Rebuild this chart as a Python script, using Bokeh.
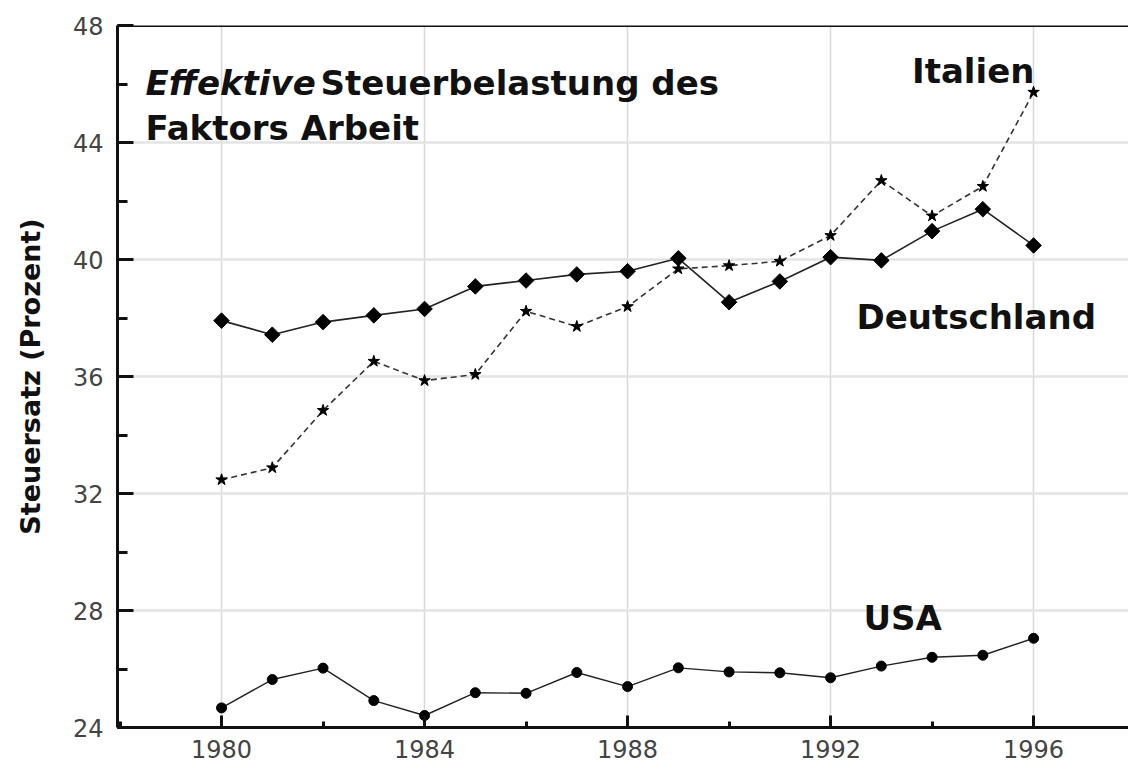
import math
from bokeh.plotting import figure
from bokeh.models import Label, Span, SingleIntervalTicker, Range1d, ColumnDataSource
from bokeh.embed import file_html
from bokeh.resources import INLINE

# ---- data ----
years = list(range(1980, 1997))
deutschland = [37.91, 37.43, 37.86, 38.09, 38.31, 39.08, 39.28, 39.49, 39.60,
               40.04, 38.54, 39.25, 40.08, 39.97, 40.97, 41.72, 40.48]
italien = [32.47, 32.88, 34.84, 36.52, 35.86, 36.07, 38.23, 37.71, 38.39,
           39.68, 39.79, 39.94, 40.82, 42.70, 41.49, 42.50, 45.72]
usa = [24.67, 25.64, 26.03, 24.92, 24.41, 25.19, 25.17, 25.88, 25.40,
       26.04, 25.90, 25.87, 25.70, 26.10, 26.40, 26.47, 27.05]

y_label = "Steuersatz (Prozent)"
title_italic = "Effektive"
title_rest = "Steuerbelastung des"
title_line2 = "Faktors Arbeit"
series_labels = ["Italien", "Deutschland", "USA"]

src = ColumnDataSource(dict(year=years, de=deutschland, it=italien, us=usa))

FONT = "DejaVu Sans"

p = figure(width=1128, height=769, output_backend="svg", toolbar_location=None,
           x_range=Range1d(1977.95, 1997.87), y_range=Range1d(24, 48),
           min_border_left=117, min_border_top=25, min_border_right=0,
           min_border_bottom=42)
p.outline_line_color = None
p.background_fill_color = "white"
p.border_fill_color = "white"

# axes
for ax in (p.xaxis[0], p.yaxis[0]):
    ax.ticker = SingleIntervalTicker(interval=4, num_minor_ticks=2)
    ax.axis_line_width = 3
    ax.axis_line_color = "#111111"
    ax.major_tick_line_width = 3
    ax.major_tick_line_color = "#111111"
    ax.minor_tick_line_width = 3
    ax.minor_tick_line_color = "#111111"
    ax.major_tick_out = 0
    ax.minor_tick_out = 0
    ax.major_label_text_font = FONT
    ax.major_label_text_font_size = "24px"
    ax.major_label_text_color = "#444444"

p.xaxis.major_tick_in = 12
p.xaxis.minor_tick_in = 6
p.xaxis.major_label_standoff = 12
p.yaxis.major_tick_in = 16
p.yaxis.minor_tick_in = 10
p.yaxis.major_label_standoff = 14

p.yaxis.axis_label = y_label
p.yaxis.axis_label_text_font = FONT
p.yaxis.axis_label_text_font_style = "bold"
p.yaxis.axis_label_text_font_size = "27px"
p.yaxis.axis_label_text_color = "#111111"
p.yaxis.axis_label_standoff = 24

# grid
p.xgrid.grid_line_color = "#d8d8d8"
p.xgrid.grid_line_width = 1.5
p.ygrid.grid_line_color = "#e4e4e4"
p.ygrid.grid_line_width = 2.5

# top frame line
p.add_layout(Span(location=48, dimension="width", line_color="#111111", line_width=3))

# series
p.line("year", "de", source=src, line_color="#222222", line_width=1.6)
p.scatter("year", "de", source=src, marker="square", angle=math.pi / 4, size=11, color="black")

p.line("year", "it", source=src, line_color="#333333", line_width=1.6, line_dash="6 4")
p.scatter("year", "it", source=src, marker="star", size=12, color="black")

p.line("year", "us", source=src, line_color="#222222", line_width=1.4)
p.scatter("year", "us", source=src, marker="circle", size=10, color="black")

# text annotations
def lab(x, y, text, align="left", style="bold", x_offset=0):
    return Label(x=x, y=y, text=text, text_font=FONT, text_font_style=style,
                 text_font_size="34px", text_color="#111111", text_align=align,
                 text_baseline="alphabetic", x_offset=x_offset)

p.add_layout(lab(1978.50, 46.05, title_italic, style="bold italic"))
p.add_layout(lab(1978.50, 46.05, title_rest, x_offset=175))
p.add_layout(lab(1978.50, 44.48, title_line2))
p.add_layout(lab(1994.81, 46.44, series_labels[0], align="center"))
p.add_layout(lab(1994.87, 38.02, series_labels[1], align="center"))
p.add_layout(lab(1993.42, 27.76, series_labels[2], align="center"))

open("out.html", "w").write(file_html(p, INLINE))
